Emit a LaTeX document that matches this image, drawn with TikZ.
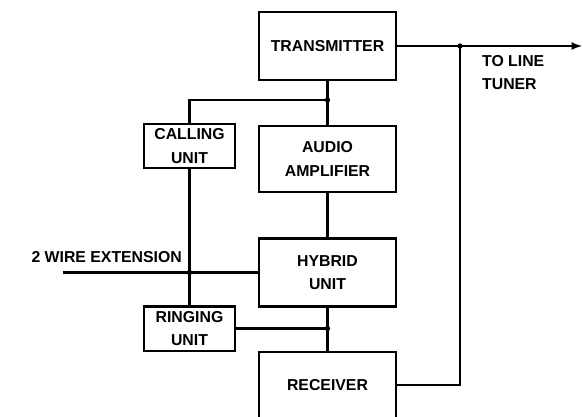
\documentclass[tikz,border=0pt]{standalone}
\usepackage{fontspec}
\setmainfont{Liberation Sans}
\usetikzlibrary{arrows}

\begin{document}
\begin{tikzpicture}[x=0.03cm,y=-0.03cm,line width=2pt,>=latex,
  font=\bfseries\fontsize{13.5}{20}\selectfont]
 \tikzstyle{unit}=[draw, align=center, inner sep=0pt]
 \tikzstyle{big}=[unit, minimum width=4.11cm, minimum height=2.04cm]
 \tikzstyle{small}=[unit, minimum width=2.73cm, minimum height=1.33cm]
 \tikzstyle{dot}=[circle, fill, inner sep=0pt, minimum size=4.5pt]
 \useasboundingbox (0,0) rectangle (583,417);
 \clip (0,0) rectangle (583,417);
  \node[big] at (327.5,46) (TX) {TRANSMITTER};
  \node[big, minimum height=1.98cm] at (327.5,159) (AMP) {AUDIO\\AMPLIFIER};
  \node[big] at (327.5,272.5) (HYB) {HYBRID\\UNIT};
  \node[big, minimum height=1.98cm] at (327.5,385) (RX) {RECEIVER};
  \node[small] at (189.5,146) (CALL) {CALLING\\UNIT};
  \node[small] at (189.5,328.5) (RING) {RINGING\\UNIT};
  \node[anchor=east, inner sep=0pt] at (183,257) (extlbl) {2 WIRE EXTENSION};
  \node[anchor=north west, align=left, inner sep=0pt] at (481,54) (tunerlbl) {TO LINE\\TUNER};
  \coordinate (tuner) at (582,46);
  \coordinate (ext) at (63,272.5);
  \node[dot] at (460,46) (j1) {};
  \node[dot] at (327.5,100) (j2) {};
  \node[dot] at (189.5,272.5) (j3) {};
  \node[dot] at (327.5,328.5) (j4) {};
  \draw[->] (TX.east) -- (tuner);
  \draw (j1.center) |- (RX.east);
  \draw (TX.south) -- (AMP.north);
  \draw (j2.center) -| (CALL.north);
  \draw (AMP.south) -- (HYB.north);
  \draw (CALL.south) -- (RING.north);
  \draw (ext) -- (HYB.west);
  \draw (RING.east) -- (j4.center);
  \draw (HYB.south) -- (RX.north);
\end{tikzpicture}
\end{document}
